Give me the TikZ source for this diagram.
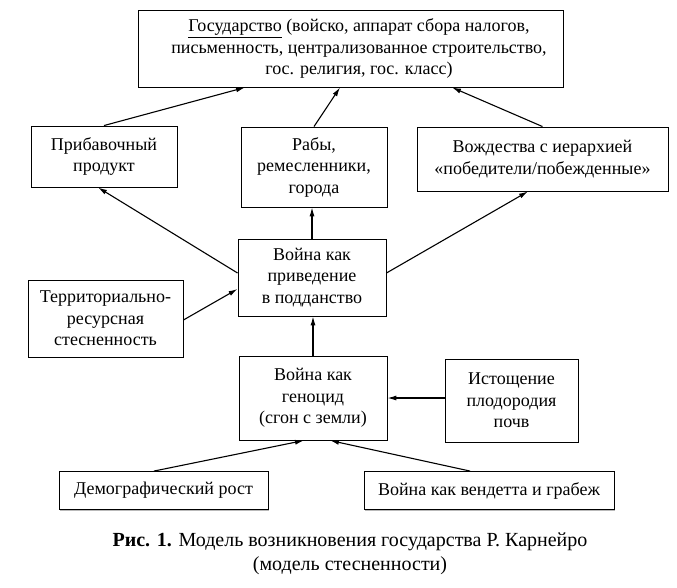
\documentclass[tikz,border=0pt]{standalone}
\usepackage{fontspec}
\setmainfont{Liberation Serif}
\usetikzlibrary{arrows.meta,shadows}
\begin{document}
\begin{tikzpicture}[x=1pt,y=-1pt,
  txt/.style={inner sep=0pt, align=center, font=\fontsize{18}{21.5}\selectfont},
  box/.style={txt, draw=black, line width=0.9pt, fill=white,
    drop shadow={shadow xshift=1.2pt, shadow yshift=-1.2pt, fill=gray!55, opacity=1}},
  arr/.style={line width=1.1pt, -{Latex[length=9pt,width=5pt]}}]
\useasboundingbox (0,0) rectangle (677,587);
\node[box, minimum width=425pt, minimum height=77pt] (top) at (350.5,48.5) {};
\node[txt] (toptext) at (359,48.5)
  {\underline{Государство} (войско, аппарат сбора налогов,\\письменность, централизованное строительство,\\гос. религия, гос. класс)};
\node[box, minimum width=146pt, minimum height=61pt] (prib) at (104,156.5) {Прибавочный\\продукт};
\node[box, minimum width=146pt, minimum height=80pt] (raby) at (314,167) {Рабы,\\ремесленники,\\города};
\node[box, minimum width=251pt, minimum height=64pt] (vozhd) at (542.5,159) {Вождества с иерархией\\«победители/побежденные»};
\node[box, minimum width=148pt, minimum height=77pt] (war1) at (312,277.5) {Война как\\приведение\\в подданство};
\node[box, minimum width=155pt, minimum height=77pt] (terr) at (105.5,318.5) {Территориально-\\ресурсная\\стесненность};
\node[box, minimum width=148pt, minimum height=84pt] (geno) at (313,398) {Война как\\геноцид\\(сгон с земли)};
\node[box, minimum width=133pt, minimum height=83pt] (isto) at (511.5,400.5) {Истощение\\плодородия\\почв};
\node[box, minimum width=209pt, minimum height=38pt] (demo) at (163.5,490.5) {Демографический рост};
\node[box, minimum width=250pt, minimum height=38pt] (vend) at (489,490.5) {Война как вендетта и грабеж};
\node[align=center, font=\fontsize{20}{24}\selectfont] (cap) at (350,554)
  {\textbf{Рис. 1.} Модель возникновения государства Р. Карнейро\\(модель стесненности)};
\draw[arr] (prib.north) -- ([xshift=-105.5pt]top.south);
\draw[arr] (raby.north) -- ([xshift=-10.5pt]top.south);
\draw[arr] (vozhd.north) -- ([xshift=101.5pt]top.south);
\draw[arr] ([yshift=4.5pt]war1.west) -- ([xshift=-6pt]prib.south);
\draw[arr] (war1.north) -- (war1.north |- raby.south);
\draw[arr] ([yshift=4.5pt]war1.east) -- ([xshift=-14.5pt]vozhd.south);
\draw[arr] ([yshift=-1.5pt]terr.east) -- ([yshift=-11.5pt]war1.west);
\draw[arr] (geno.north) -- (geno.north |- war1.south);
\draw[arr] (isto.west |- geno.east) -- (geno.east);
\draw[arr] ([xshift=-9.5pt]demo.north) -- ([xshift=-9pt]geno.south);
\draw[arr] ([xshift=-19pt]vend.north) -- ([xshift=17pt]geno.south);
\end{tikzpicture}
\end{document}
